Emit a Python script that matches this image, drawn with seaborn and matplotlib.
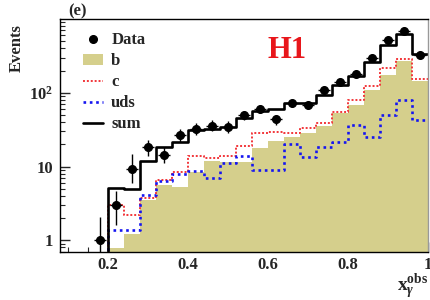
import matplotlib
matplotlib.use("Agg")
import numpy as np
import pandas as pd
import matplotlib.pyplot as plt
import seaborn as sns
from matplotlib.lines import Line2D
from matplotlib.patches import Patch
from matplotlib.ticker import FixedLocator, MultipleLocator, LogLocator, NullFormatter, FixedFormatter

# ---------------- data ----------------
bin_edges = [0.08, 0.12, 0.16, 0.20, 0.24, 0.28, 0.32, 0.36, 0.40, 0.44, 0.48, 0.52,
             0.56, 0.60, 0.64, 0.68, 0.72, 0.76, 0.80, 0.84, 0.88, 0.92, 0.96, 1.00]
bin_centers = [0.10, 0.14, 0.18, 0.22, 0.26, 0.30, 0.34, 0.38, 0.42, 0.46, 0.50, 0.54,
               0.58, 0.62, 0.66, 0.70, 0.74, 0.78, 0.82, 0.86, 0.90, 0.94, 0.98]

b_vals = [0, 0, 0, 0.78, 1.2, 3.5, 5.6, 5.3, 8.3, 11.7, 11.6, 11.6,
          17.9, 21.9, 25.2, 28.5, 35.5, 53, 68, 108, 172, 271, 144]
c_vals = [0, 0, 0, 3.0, 2.2, 3.7, 6.6, 8.5, 14.1, 13.0, 14.1, 18.7,
          28.5, 29.4, 28.5, 33.4, 39.5, 54, 79, 123, 219, 290, 153]
uds_vals = [0, 0, 0, 1.37, 1.37, 4.05, 6.4, 7.9, 8.6, 6.9, 11.1, 14.1,
            9.0, 9.0, 20.2, 13.4, 18.2, 21.2, 36.3, 24.9, 49.5, 79, 42.4]
sum_vals = [0, 0, 0, 5.1, 4.9, 11.7, 18.4, 21.5, 31.6, 32.5, 34.5, 45,
            57, 60, 72, 72, 92, 128, 169, 265, 440, 630, 334]

data_x = [0.18, 0.22, 0.26, 0.30, 0.34, 0.38, 0.42, 0.46, 0.50, 0.54, 0.58,
          0.62, 0.66, 0.70, 0.74, 0.78, 0.82, 0.86, 0.90, 0.94, 0.98]
data_y = [1.0, 3.0, 9.2, 18.4, 14.4, 26.5, 32.4, 35.9, 34.5, 49.2, 60.7,
          43.4, 71.7, 68.8, 108, 140, 178, 298, 519, 688, 321]
data_err_lo = [1.0, 1.4, 3.2, 4.4, 3.3, 5.0, 5.7, 6.0, 5.9, 7.0, 7.8,
               6.6, 8.5, 8.3, 10.4, 11.8, 13.3, 17.3, 22.8, 26.2, 17.9]
data_err_hi = [1.06, 1.7, 5.5, 4.6, 3.8, 5.5, 6.2, 6.5, 6.3, 7.5, 8.3,
               7.1, 9.0, 8.8, 11.0, 12.3, 13.8, 17.8, 23.3, 26.7, 18.4]

y_tick_vals = [1, 10, 100]
y_tick_labels = ["1", "10", r"$\mathbf{10^{2}}$"]
x_tick_vals = [0.2, 0.4, 0.6, 0.8, 1.0]
x_tick_labels = ["0.2", "0.4", "0.6", "0.8", "1"]

# ---------------- style ----------------
sns.set_style("ticks")
plt.rcParams["font.family"] = ["Liberation Serif", "DejaVu Serif"]
plt.rcParams["font.weight"] = "bold"
plt.rcParams["mathtext.fontset"] = "custom"
plt.rcParams["mathtext.rm"] = "Liberation Serif"
plt.rcParams["mathtext.bf"] = "Liberation Serif:bold"
plt.rcParams["mathtext.it"] = "Liberation Serif:italic:bold"

KHAKI = "#d5cf8c"
RED = "#f2363a"
BLUE = "#1515f0"

df = pd.DataFrame({"x": bin_centers, "b": b_vals, "c": c_vals,
                   "uds": uds_vals, "sum": sum_vals})

fig = plt.figure(figsize=(4.31, 3.0), dpi=100)
ax = fig.add_axes([60 / 431, 1 - 251.7 / 300, 368 / 431, (251.7 - 19) / 300])
ax.set_yscale("log", nonpositive="clip")

sns.histplot(data=df, x="x", weights="b", bins=bin_edges, element="step",
             fill=True, color=KHAKI, alpha=1.0, linewidth=0, ax=ax)
sns.histplot(data=df, x="x", weights="c", bins=bin_edges, element="step",
             fill=False, color=RED, linewidth=1.4, linestyle=(0, (1, 1)), ax=ax)
sns.histplot(data=df, x="x", weights="uds", bins=bin_edges, element="step",
             fill=False, color=BLUE, linewidth=1.9, linestyle=(0, (1, 1.4)), ax=ax)
sns.histplot(data=df, x="x", weights="sum", bins=bin_edges, element="step",
             fill=False, color="black", linewidth=1.9, ax=ax)

ax.errorbar(data_x, data_y, yerr=[data_err_lo, data_err_hi], xerr=0.015,
            fmt="o", color="black", markersize=5.5, elinewidth=1.0,
            capsize=0, zorder=5)

ax.set_xlim(0.08, 1.0)
ax.set_ylim(0.7, 1000)
ax.set_xlabel("")
ax.set_ylabel("")

ax.xaxis.set_major_locator(FixedLocator(x_tick_vals))
ax.xaxis.set_major_formatter(FixedFormatter(x_tick_labels))
ax.xaxis.set_minor_locator(MultipleLocator(0.05))
ax.yaxis.set_major_locator(FixedLocator(y_tick_vals))
ax.yaxis.set_major_formatter(FixedFormatter(y_tick_labels))
ax.yaxis.set_minor_locator(LogLocator(base=10, subs=np.arange(2, 10)))
ax.yaxis.set_minor_formatter(NullFormatter())

ax.tick_params(axis="both", which="major", direction="in", length=7, width=1.0,
               labelsize=12, pad=4)
ax.tick_params(axis="both", which="minor", direction="in", length=3.5, width=0.8)
ax.tick_params(axis="y", which="major", pad=5)
ax.tick_params(top=False, right=False, which="both")
for lab in ax.get_xticklabels() + ax.get_yticklabels():
    lab.set_fontweight("bold")

for s in ["left", "bottom", "top"]:
    ax.spines[s].set_color("black")
    ax.spines[s].set_linewidth(1.0)
ax.spines["right"].set_color("#999999")
ax.spines["right"].set_linewidth(1.0)

handles = [
    Line2D([], [], marker="o", color="black", linestyle="none", markersize=5.5),
    Patch(facecolor=KHAKI, edgecolor="none"),
    Line2D([], [], color=RED, linewidth=1.4, linestyle=(0, (1, 1))),
    Line2D([], [], color=BLUE, linewidth=1.9, linestyle=(0, (1, 1.4))),
    Line2D([], [], color="black", linewidth=1.9),
]
labels = ["Data", "b", "c", "uds", "sum"]
leg = ax.legend(handles, labels, loc="upper left", bbox_to_anchor=(0.035, 0.985),
                frameon=False, fontsize=12, handlelength=1.2, handletextpad=0.5,
                labelspacing=0.3, borderaxespad=0.2)
for t in leg.get_texts():
    t.set_fontweight("bold")

fig.text(287 / 431, 1 - 50 / 300, "H1", color="#e8161b", fontsize=22,
         fontweight="bold", ha="center", va="center")
fig.text(68 / 431, 1 - 11 / 300, "(e)", fontsize=12, fontweight="bold",
         ha="left", va="center")
fig.text(17 / 431, 1 - 48 / 300, "Events", fontsize=12, fontweight="bold",
         rotation=90, ha="center", va="center")
fig.text(428 / 431, 1 - 291 / 300, r"$\mathbf{x}_{\gamma}^{\mathbf{obs}}$",
         fontsize=14, ha="right", va="baseline")

fig.savefig("out.png", dpi=100)
